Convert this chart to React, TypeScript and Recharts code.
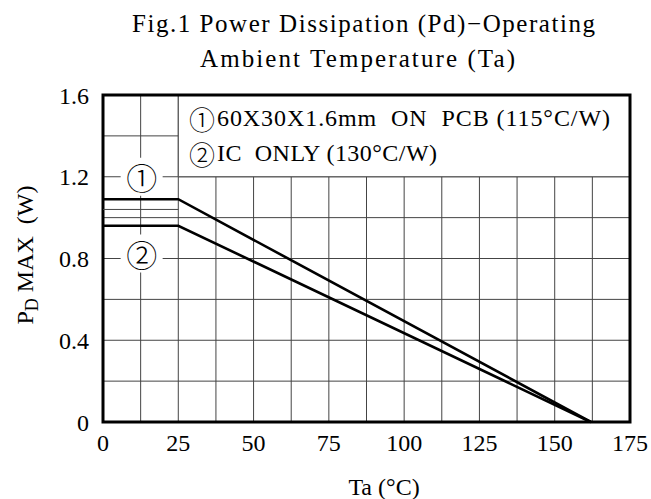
import React from 'react';
import { LineChart, Line, XAxis, YAxis, CartesianGrid, ReferenceArea, ReferenceLine, ReferenceDot } from 'recharts';

// Ta (°C) breakpoints and Pd max (W) for each mounting condition
const temps = [0, 25, 162];
const pcbPower = [1.09, 1.09, 0];
const icPower = [0.96, 0.96, 0];

const xTicks = [0, 12.5, 25, 37.5, 50, 62.5, 75, 87.5, 100, 112.5, 125, 137.5, 150, 162.5, 175];
const yTicks = [0, 0.2, 0.4, 0.6, 0.8, 1.0, 1.2, 1.4, 1.6];

const titleLines = ['Fig.1 Power Dissipation (Pd)\u2212Operating', 'Ambient Temperature (Ta)'];
const legendItems = ['60X30X1.6mm  ON  PCB (115\u00b0C/W)', 'IC  ONLY (130\u00b0C/W)'];
const circled = ['\u2460', '\u2461'];

const data = temps.map((t, i) => ({ t, pcb: pcbPower[i], ic: icPower[i] }));

const SERIF = '"Liberation Serif", serif';
const CIRCLE_FONT = '"Noto Sans CJK JP", "DejaVu Sans", sans-serif';
const GRID = '#444';

const tickStyle = { fontSize: 24, fontFamily: SERIF, fill: '#000' };

const fmtX = (v: number) => (v % 25 === 0 ? String(v) : '');
const fmtY = (v: number) => {
  const k = Math.round(v * 10);
  if (k % 4 !== 0) return '';
  return k === 0 ? '0' : (k / 10).toFixed(1);
};

const markerShape = (label: string, dy: number) => (props: any) => {
  const { cx, cy } = props;
  return (
    <g>
      <rect x={cx - 20} y={cy - 19 + dy} width={42} height={38} fill="#fff" />
      <text x={cx + 1} y={cy + dy} textAnchor="middle" dominantBaseline="central" fontSize={31} fontWeight={300} fontFamily={CIRCLE_FONT} fill="#000">
        {label}
      </text>
    </g>
  );
};

export default function App() {
  return (
    <div style={{ position: 'absolute', left: 0, top: 0, width: 651, height: 499, background: '#fff' }}>
      <LineChart width={651} height={499} data={data} margin={{ top: 95, right: 21, left: 43, bottom: 47 }}>
        <CartesianGrid stroke={GRID} strokeWidth={1} />
        <XAxis
          dataKey="t"
          type="number"
          domain={[0, 175]}
          ticks={xTicks}
          interval={0}
          tickFormatter={fmtX}
          axisLine={false}
          tickLine={false}
          tickMargin={6}
          height={30}
          tick={tickStyle}
        />
        <YAxis
          type="number"
          domain={[0, 1.6]}
          ticks={yTicks}
          interval={0}
          tickFormatter={fmtY}
          axisLine={false}
          tickLine={false}
          tickMargin={8}
          width={60}
          tick={tickStyle}
        />
        <ReferenceArea x1={25} x2={175} y1={1.2} y2={1.6} fill="#fff" fillOpacity={1} stroke={GRID} strokeWidth={1} />
        <ReferenceLine segment={[{ x: 0, y: 1.04 }, { x: 25, y: 1.04 }]} stroke={GRID} strokeWidth={1} />
        <ReferenceDot x={12.5} y={1.2} r={10} shape={markerShape(circled[0], 0)} />
        <ReferenceDot x={12.5} y={0.8} r={10} shape={markerShape(circled[1], -5)} />
        <Line type="linear" dataKey="pcb" stroke="#000" strokeWidth={2.6} dot={false} isAnimationActive={false} />
        <Line type="linear" dataKey="ic" stroke="#000" strokeWidth={2.6} dot={false} isAnimationActive={false} />
        <ReferenceArea x1={0} x2={175} y1={0} y2={1.6} fill="none" stroke="#000" strokeWidth={3} />
      </LineChart>
      <svg width={651} height={499} style={{ position: 'absolute', left: 0, top: 0, pointerEvents: 'none' }}>
        <text x={132} y={32} fontSize={25} fontFamily={SERIF} textLength={463} lengthAdjust="spacing" fill="#000">
          {titleLines[0]}
        </text>
        <text x={200} y={67} fontSize={25} fontFamily={SERIF} textLength={315} lengthAdjust="spacing" fill="#000">
          {titleLines[1]}
        </text>
        <text x={202} y={118} textAnchor="middle" dominantBaseline="central" fontSize={26} fontWeight={300} fontFamily={CIRCLE_FONT} fill="#000">
          {circled[0]}
        </text>
        <text x={217} y={126} fontSize={24} fontFamily={SERIF} textLength={393} lengthAdjust="spacing" fill="#000" style={{ whiteSpace: 'pre' }}>
          {legendItems[0]}
        </text>
        <text x={202} y={153} textAnchor="middle" dominantBaseline="central" fontSize={26} fontWeight={300} fontFamily={CIRCLE_FONT} fill="#000">
          {circled[1]}
        </text>
        <text x={217} y={161} fontSize={24} fontFamily={SERIF} textLength={220} lengthAdjust="spacing" fill="#000" style={{ whiteSpace: 'pre' }}>
          {legendItems[1]}
        </text>
        <text x={384} y={495} textAnchor="middle" fontSize={24} fontFamily={SERIF} fill="#000">
          Ta ({'\u00b0'}C)
        </text>
        <text transform="translate(33,255) rotate(-90)" textAnchor="middle" fontSize={24} fontFamily={SERIF} fill="#000" style={{ whiteSpace: 'pre' }}>
          P<tspan fontSize={18} dy={5}>D</tspan>
          <tspan dy={-5}> MAX  (W)</tspan>
        </text>
      </svg>
    </div>
  );
}
